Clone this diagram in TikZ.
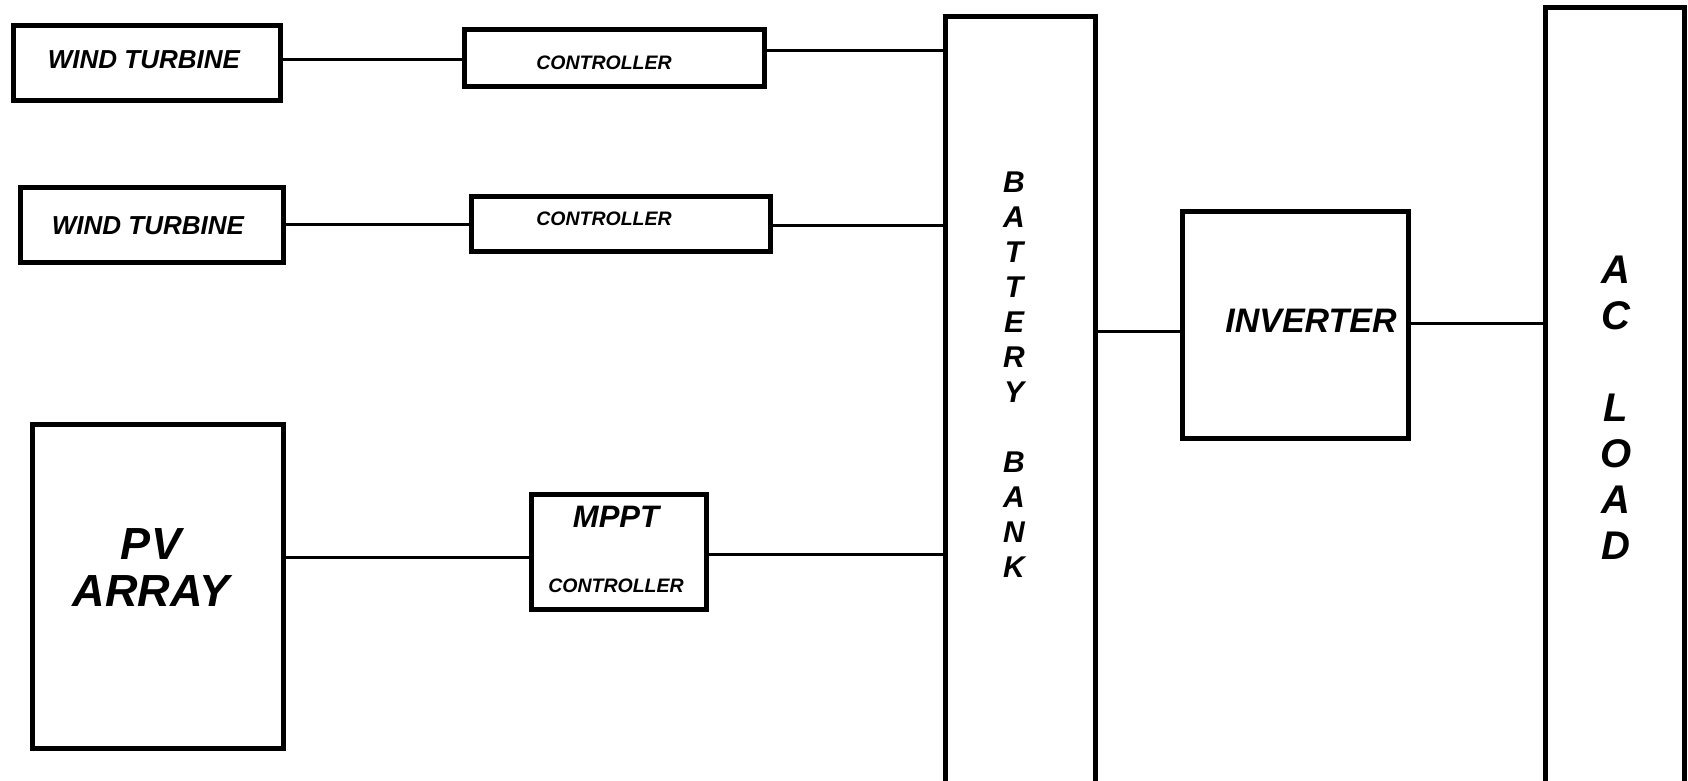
\documentclass[tikz,border=0pt]{standalone}
\usepackage{fontspec}
\setmainfont{Liberation Sans}
\begin{document}
\begin{tikzpicture}[x=1pt,y=-1pt,
  blk/.style={draw=black,line width=5pt,rectangle,inner sep=0pt},
  wire/.style={draw=black,line width=3pt},
  lbl/.style={font=\bfseries\itshape,inner sep=0pt,align=center}]
\useasboundingbox (0,0) rectangle (1688,781);
\clip (0,0) rectangle (1688,781);
% boxes
\node[blk,minimum width=267pt,minimum height=75pt] (wt1) at (146.5,63.5) {};
\node[blk,minimum width=300pt,minimum height=57pt] (c1) at (614,58.5) {};
\node[blk,minimum width=263pt,minimum height=75pt] (wt2) at (151.5,224.5) {};
\node[blk,minimum width=299pt,minimum height=55pt] (c2) at (620.5,223.5) {};
\node[blk,minimum width=251pt,minimum height=324pt] (pv) at (157.5,586) {};
\node[blk,minimum width=175pt,minimum height=115pt] (mppt) at (618.5,551.5) {};
\node[blk,minimum width=150pt,minimum height=790pt] (bat) at (1020,412) {};
\node[blk,minimum width=226pt,minimum height=227pt] (inv) at (1295,324.5) {};
\node[blk,minimum width=139pt,minimum height=800pt] (ac) at (1614.5,408) {};
% texts
\node[lbl,font=\bfseries\itshape\fontsize{26}{30}\selectfont] (t1) at (144,60) {WIND TURBINE};
\node[lbl,font=\bfseries\itshape\fontsize{19.5}{23}\selectfont] (t2) at (604,63) {CONTROLLER};
\node[lbl,font=\bfseries\itshape\fontsize{26}{30}\selectfont] (t3) at (148,226) {WIND TURBINE};
\node[lbl,font=\bfseries\itshape\fontsize{19.5}{23}\selectfont] (t4) at (604,219) {CONTROLLER};
\node[lbl,font=\bfseries\itshape\fontsize{45}{47}\selectfont] (t5) at (151,568) {PV\\ARRAY};
\node[lbl,font=\bfseries\itshape\fontsize{31}{34}\selectfont] (t6) at (616,517) {MPPT};
\node[lbl,font=\bfseries\itshape\fontsize{19.5}{23}\selectfont] (t7) at (616,586) {CONTROLLER};
\node[lbl,font=\bfseries\itshape\fontsize{34}{36}\selectfont] (t8) at (1311,321) {INVERTER};
\node[lbl,font=\bfseries\itshape\fontsize{30}{35}\selectfont] (t9) at (1014,375) {B\\A\\T\\T\\E\\R\\Y\\[35pt]B\\A\\N\\K};
\node[lbl,font=\bfseries\itshape\fontsize{40}{46}\selectfont] (t10) at (1616,408) {A\\C\\[46pt]L\\O\\A\\D};
% connectors
\draw[wire] ([yshift=3.5pt]wt1.east) -- ([yshift=3.5pt]wt1.east -| c1.west);
\draw[wire] ([yshift=7.5pt]c1.east) -- ([yshift=7.5pt]c1.east -| bat.west);
\draw[wire] (wt2.east) -- (wt2.east -| c2.west);
\draw[wire] ([yshift=-1.5pt]c2.east) -- ([yshift=-1.5pt]c2.east -| bat.west);
\draw[wire] ([yshift=-5.5pt]mppt.west -| pv.east) -- ([yshift=-5.5pt]mppt.west);
\draw[wire] ([yshift=-2.5pt]mppt.east) -- ([yshift=-2.5pt]mppt.east -| bat.west);
\draw[wire] ([yshift=-6.5pt]inv.west -| bat.east) -- ([yshift=-6.5pt]inv.west);
\draw[wire] ([yshift=1.5pt]inv.east) -- ([yshift=1.5pt]inv.east -| ac.west);
\end{tikzpicture}
\end{document}
